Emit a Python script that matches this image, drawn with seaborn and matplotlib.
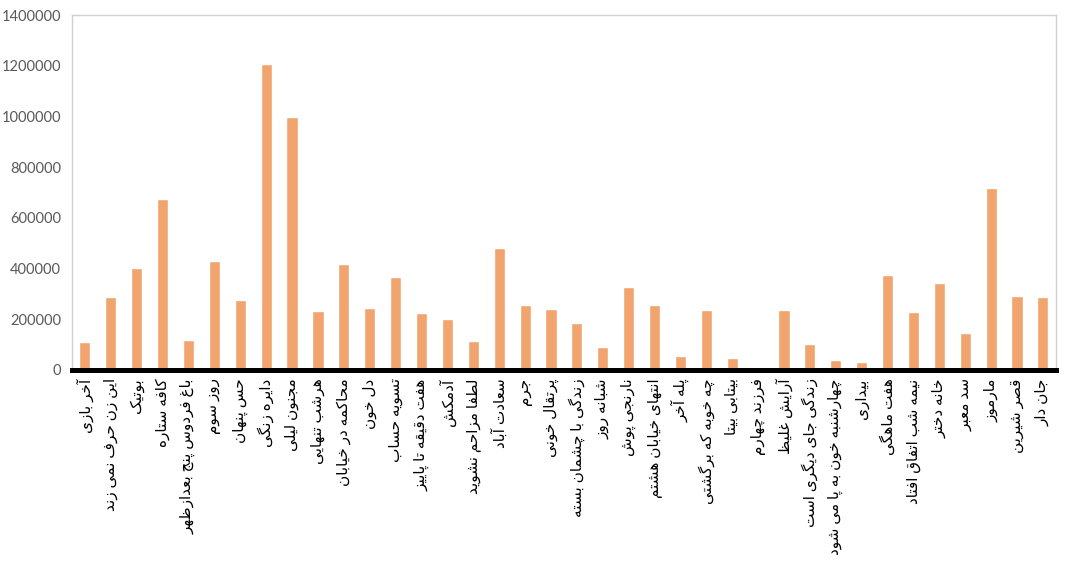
import numpy as np
import pandas as pd
import matplotlib
matplotlib.use('Agg')
import matplotlib.pyplot as plt
import seaborn as sns

# movie titles (logical order) and values
titles = ['آخر بازی', 'این زن حرف نمی زند', 'بوتیک', 'کافه ستاره',
          'باغ فردوس پنج بعدازظهر', 'روز سوم', 'حس پنهان', 'دایره زنگی',
          'مجنون لیلی', 'هرشب تنهایی', 'محاکمه در خیابان', 'دل خون',
          'تسویه حساب', 'هفت دقیقه تا پاییز', 'آدمکش', 'لطفا مزاحم نشوید',
          'سعادت آباد', 'جرم', 'پرتقال خونی', 'زندگی با چشمان بسته',
          'شبانه روز', 'نارنجی پوش', 'انتهای خیابان هشتم', 'پله آخر',
          'چه خوبه که برگشتی', 'بیتابی بیتا', 'فرزند چهارم', 'آرایش غلیظ',
          'زندگی جای دیگری است', 'چهارشنبه خون به پا می شود', 'بیداری',
          'هفت ماهگی', 'نیمه شب اتفاق افتاد', 'خانه دختر', 'سد معبر',
          'مارموز', 'قصر شیرین', 'جان دار']
values = [110000, 288000, 402000, 674000, 118000, 430000, 276000, 1207000,
          998000, 233000, 418000, 245000, 367000, 225000, 201000, 114000,
          481000, 256000, 240000, 185000, 91000, 327000, 256000, 55000,
          237000, 47000, 12000, 238000, 103000, 38000, 32000, 375000,
          230000, 344000, 146000, 719000, 292000, 287000]
yticks = [0, 200000, 400000, 600000, 800000, 1000000, 1200000, 1400000]

# matplotlib 3.10 has no arabic shaping, so join letters by hand
# forms: isolated, final, initial, medial (None -> letter does not join left)
forms = {
    'ا': ('\uFE8D', '\uFE8E', None, None), 'آ': ('\uFE81', '\uFE82', None, None),
    'ب': ('\uFE8F', '\uFE90', '\uFE91', '\uFE92'), 'پ': ('\uFB56', '\uFB57', '\uFB58', '\uFB59'),
    'ت': ('\uFE95', '\uFE96', '\uFE97', '\uFE98'), 'ث': ('\uFE99', '\uFE9A', '\uFE9B', '\uFE9C'),
    'ج': ('\uFE9D', '\uFE9E', '\uFE9F', '\uFEA0'), 'چ': ('\uFB7A', '\uFB7B', '\uFB7C', '\uFB7D'),
    'ح': ('\uFEA1', '\uFEA2', '\uFEA3', '\uFEA4'), 'خ': ('\uFEA5', '\uFEA6', '\uFEA7', '\uFEA8'),
    'د': ('\uFEA9', '\uFEAA', None, None), 'ذ': ('\uFEAB', '\uFEAC', None, None),
    'ر': ('\uFEAD', '\uFEAE', None, None), 'ز': ('\uFEAF', '\uFEB0', None, None),
    'ژ': ('\uFB8A', '\uFB8B', None, None), 'و': ('\uFEED', '\uFEEE', None, None),
    'س': ('\uFEB1', '\uFEB2', '\uFEB3', '\uFEB4'), 'ش': ('\uFEB5', '\uFEB6', '\uFEB7', '\uFEB8'),
    'ص': ('\uFEB9', '\uFEBA', '\uFEBB', '\uFEBC'), 'ض': ('\uFEBD', '\uFEBE', '\uFEBF', '\uFEC0'),
    'ط': ('\uFEC1', '\uFEC2', '\uFEC3', '\uFEC4'), 'ظ': ('\uFEC5', '\uFEC6', '\uFEC7', '\uFEC8'),
    'ع': ('\uFEC9', '\uFECA', '\uFECB', '\uFECC'), 'غ': ('\uFECD', '\uFECE', '\uFECF', '\uFED0'),
    'ف': ('\uFED1', '\uFED2', '\uFED3', '\uFED4'), 'ق': ('\uFED5', '\uFED6', '\uFED7', '\uFED8'),
    'ک': ('\uFB8E', '\uFB8F', '\uFB90', '\uFB91'), 'گ': ('\uFB92', '\uFB93', '\uFB94', '\uFB95'),
    'ل': ('\uFEDD', '\uFEDE', '\uFEDF', '\uFEE0'), 'م': ('\uFEE1', '\uFEE2', '\uFEE3', '\uFEE4'),
    'ن': ('\uFEE5', '\uFEE6', '\uFEE7', '\uFEE8'), 'ه': ('\uFEE9', '\uFEEA', '\uFEEB', '\uFEEC'),
    'ی': ('\uFBFC', '\uFBFD', '\uFBFE', '\uFBFF'),
}


def shape(text):
    out = []
    for i, ch in enumerate(text):
        if ch not in forms:
            out.append(ch)
            continue
        prev = text[i - 1] if i > 0 else ''
        nxt = text[i + 1] if i + 1 < len(text) else ''
        join_prev = prev in forms and forms[prev][2] is not None
        join_next = nxt in forms and forms[ch][2] is not None
        f = forms[ch]
        if join_prev and join_next:
            out.append(f[3])
        elif join_prev:
            out.append(f[1])
        elif join_next:
            out.append(f[2])
        else:
            out.append(f[0])
    return ''.join(reversed(out))


df = pd.DataFrame({'title': [shape(t) for t in titles], 'value': values})

sns.set_style('white')
plt.rcParams['font.family'] = ['Lato', 'DejaVu Sans']

fig = plt.figure(figsize=(10.66, 5.64), dpi=100)
ax = fig.add_axes([0.0675, 0.344, 0.923, 0.629])

sns.barplot(data=df, x='title', y='value', color='#F2A46E', width=0.43,
            saturation=1, ax=ax)

ax.set_ylim(0, 1400000)
ax.set_xlim(-0.5, len(titles) - 0.5)
ax.set_yticks(yticks)
ax.set_yticklabels([str(v) for v in yticks], fontsize=10.5, color='#595959')
ax.tick_params(axis='x', labelrotation=90, labelsize=11, colors='black',
               length=0, pad=6)
ax.tick_params(axis='y', length=0, pad=8)
ax.set_xlabel('')
ax.set_ylabel('')

for side in ['top', 'right', 'left']:
    ax.spines[side].set_color('#D0D0D0')
    ax.spines[side].set_linewidth(1)
ax.spines['bottom'].set_color('black')
ax.spines['bottom'].set_linewidth(3.6)

fig.savefig('out.png', dpi=100)
